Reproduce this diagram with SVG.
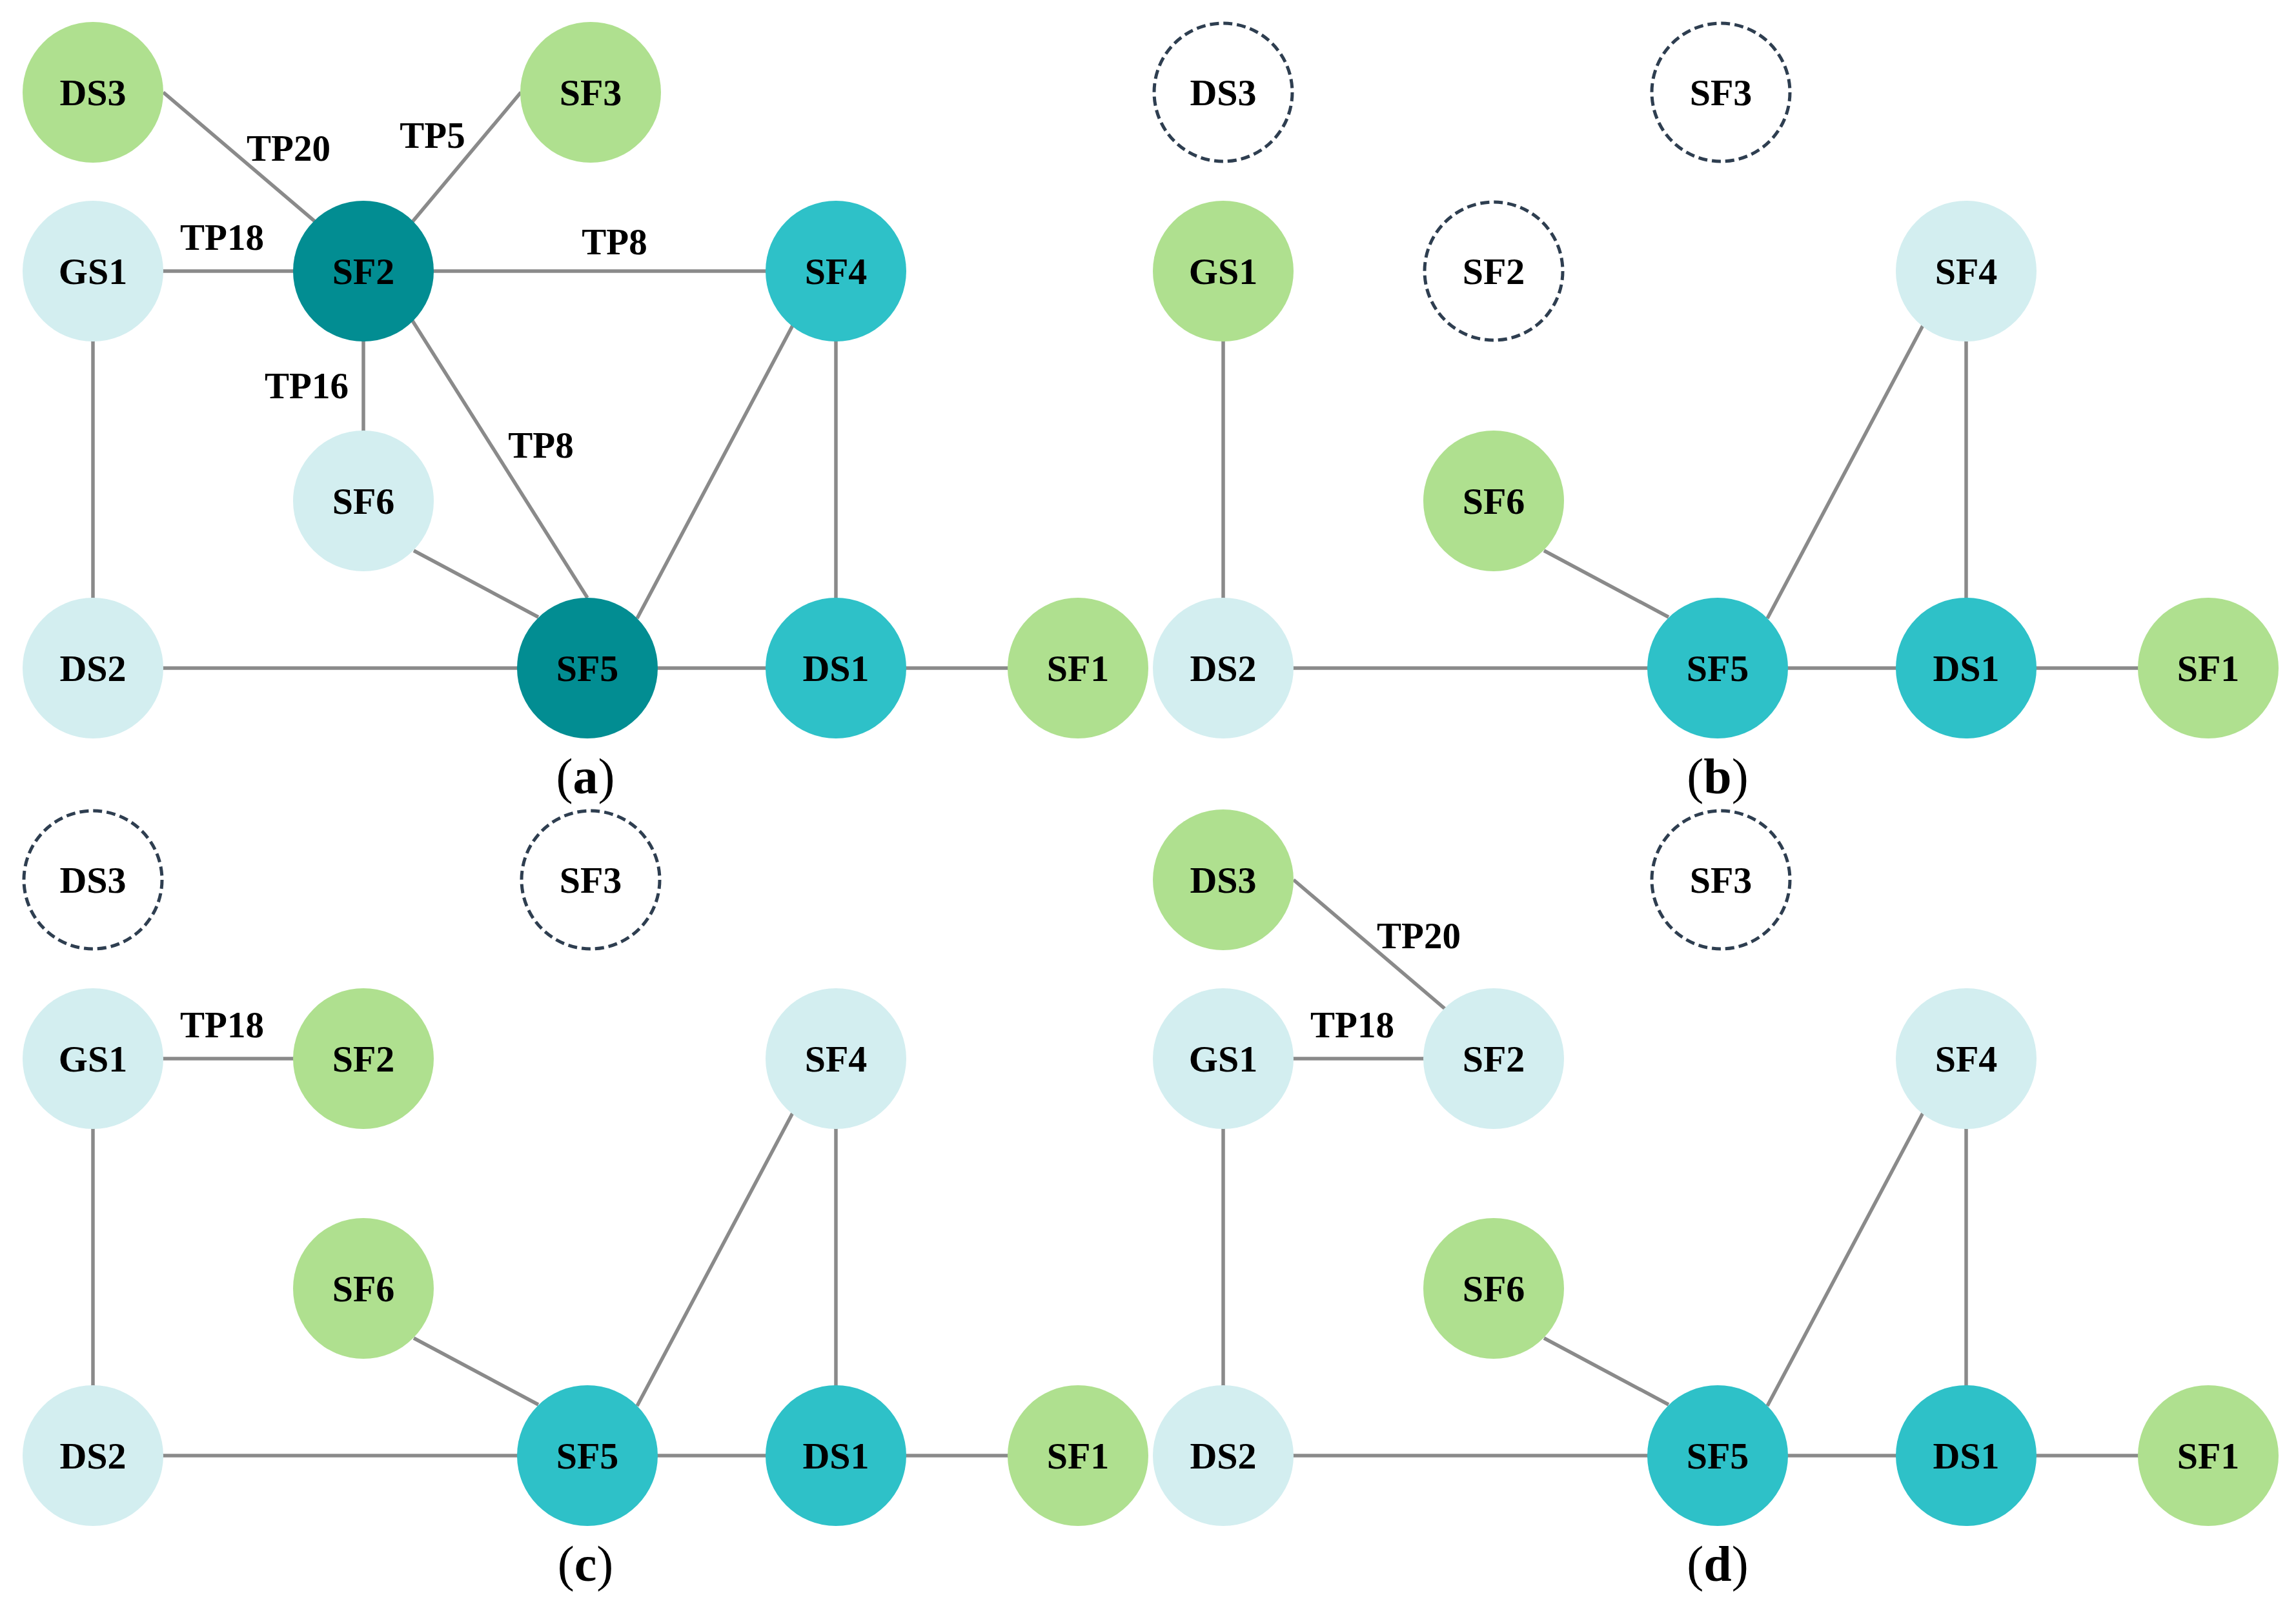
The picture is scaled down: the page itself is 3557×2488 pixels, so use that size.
<svg xmlns="http://www.w3.org/2000/svg" width="3557" height="2488" viewBox="0 0 3557 2488">
<style>
.bg{fill:#ffffff}
.c{stroke:#8a8a8a;stroke-width:5.5;fill:none}
.g{fill:#afe08f}
.lb{fill:#d3eef0}
.mt{fill:#2ec1c8}
.dt{fill:#028d92}
.ds{fill:#ffffff;stroke:#2e3e50;stroke-width:5;stroke-dasharray:14 7}
.n{font-family:"Liberation Serif","Times New Roman",serif;font-weight:bold;font-size:58px;text-anchor:middle;fill:#000}
.e{font-family:"Liberation Serif","Times New Roman",serif;font-weight:bold;font-size:57px;text-anchor:middle;fill:#000}
.p{font-family:"Liberation Serif","Times New Roman",serif;font-size:78px;text-anchor:middle;fill:#000}
.pb{font-weight:bold}
</style>
<rect class="bg" x="0" y="0" width="3557" height="2488"/>

<g id="connectors">
  <g id="conn-a">
    <line class="c" x1="253" y1="143" x2="530" y2="379"/>
    <line class="c" x1="807" y1="143" x2="600" y2="390"/>
    <line class="c" x1="144" y1="420" x2="563" y2="420"/>
    <line class="c" x1="563" y1="420" x2="1295" y2="420"/>
    <line class="c" x1="563" y1="420" x2="563" y2="776"/>
    <line class="c" x1="610" y1="451" x2="910" y2="926"/>
    <line class="c" x1="144" y1="420" x2="144" y2="1035"/>
    <line class="c" x1="987" y1="958" x2="1243" y2="476"/>
    <line class="c" x1="1295" y1="420" x2="1295" y2="1035"/>
    <line class="c" x1="641" y1="853" x2="834" y2="956"/>
    <line class="c" x1="144" y1="1035" x2="910" y2="1035"/>
    <line class="c" x1="910" y1="1035" x2="1295" y2="1035"/>
    <line class="c" x1="1295" y1="1035" x2="1670" y2="1035"/>
  </g>
  <g id="conn-b" transform="translate(1751,0)">
    <line class="c" x1="144" y1="420" x2="144" y2="1035"/>
    <line class="c" x1="987" y1="958" x2="1243" y2="476"/>
    <line class="c" x1="1295" y1="420" x2="1295" y2="1035"/>
    <line class="c" x1="641" y1="853" x2="834" y2="956"/>
    <line class="c" x1="144" y1="1035" x2="910" y2="1035"/>
    <line class="c" x1="910" y1="1035" x2="1295" y2="1035"/>
    <line class="c" x1="1295" y1="1035" x2="1670" y2="1035"/>
  </g>
  <g id="conn-c" transform="translate(0,1220)">
    <line class="c" x1="144" y1="420" x2="563" y2="420"/>
    <line class="c" x1="144" y1="420" x2="144" y2="1035"/>
    <line class="c" x1="987" y1="958" x2="1243" y2="476"/>
    <line class="c" x1="1295" y1="420" x2="1295" y2="1035"/>
    <line class="c" x1="641" y1="853" x2="834" y2="956"/>
    <line class="c" x1="144" y1="1035" x2="910" y2="1035"/>
    <line class="c" x1="910" y1="1035" x2="1295" y2="1035"/>
    <line class="c" x1="1295" y1="1035" x2="1670" y2="1035"/>
  </g>
  <g id="conn-d" transform="translate(1751,1220)">
    <line class="c" x1="253" y1="143" x2="530" y2="379"/>
    <line class="c" x1="144" y1="420" x2="563" y2="420"/>
    <line class="c" x1="144" y1="420" x2="144" y2="1035"/>
    <line class="c" x1="987" y1="958" x2="1243" y2="476"/>
    <line class="c" x1="1295" y1="420" x2="1295" y2="1035"/>
    <line class="c" x1="641" y1="853" x2="834" y2="956"/>
    <line class="c" x1="144" y1="1035" x2="910" y2="1035"/>
    <line class="c" x1="910" y1="1035" x2="1295" y2="1035"/>
    <line class="c" x1="1295" y1="1035" x2="1670" y2="1035"/>
  </g>
</g>

<g id="edge-labels">
  <text class="e" x="447" y="249">TP20</text>
  <text class="e" x="670" y="229">TP5</text>
  <text class="e" x="344" y="387">TP18</text>
  <text class="e" x="952" y="394">TP8</text>
  <text class="e" x="475" y="617">TP16</text>
  <text class="e" x="838" y="709">TP8</text>
  <text class="e" x="344" y="1607">TP18</text>
  <text class="e" x="2198" y="1469">TP20</text>
  <text class="e" x="2095" y="1607">TP18</text>
</g>

<g id="nodes">
  <g id="panel-a">
    <g id="a-DS3"><circle class="g" cx="144" cy="143" r="109"/><text class="n" x="144" y="163">DS3</text></g>
    <g id="a-SF3"><circle class="g" cx="915" cy="143" r="109"/><text class="n" x="915" y="163">SF3</text></g>
    <g id="a-GS1"><circle class="lb" cx="144" cy="420" r="109"/><text class="n" x="144" y="440">GS1</text></g>
    <g id="a-SF2"><circle class="dt" cx="563" cy="420" r="109"/><text class="n" x="563" y="440">SF2</text></g>
    <g id="a-SF4"><circle class="mt" cx="1295" cy="420" r="109"/><text class="n" x="1295" y="440">SF4</text></g>
    <g id="a-SF6"><circle class="lb" cx="563" cy="776" r="109"/><text class="n" x="563" y="796">SF6</text></g>
    <g id="a-DS2"><circle class="lb" cx="144" cy="1035" r="109"/><text class="n" x="144" y="1055">DS2</text></g>
    <g id="a-SF5"><circle class="dt" cx="910" cy="1035" r="109"/><text class="n" x="910" y="1055">SF5</text></g>
    <g id="a-DS1"><circle class="mt" cx="1295" cy="1035" r="109"/><text class="n" x="1295" y="1055">DS1</text></g>
    <g id="a-SF1"><circle class="g" cx="1670" cy="1035" r="109"/><text class="n" x="1670" y="1055">SF1</text></g>
  </g>
  <g id="panel-b" transform="translate(1751,0)">
    <g id="b-DS3"><circle class="ds" cx="144" cy="143" r="107"/><text class="n" x="144" y="163">DS3</text></g>
    <g id="b-SF3"><circle class="ds" cx="915" cy="143" r="107"/><text class="n" x="915" y="163">SF3</text></g>
    <g id="b-GS1"><circle class="g" cx="144" cy="420" r="109"/><text class="n" x="144" y="440">GS1</text></g>
    <g id="b-SF2"><circle class="ds" cx="563" cy="420" r="107"/><text class="n" x="563" y="440">SF2</text></g>
    <g id="b-SF4"><circle class="lb" cx="1295" cy="420" r="109"/><text class="n" x="1295" y="440">SF4</text></g>
    <g id="b-SF6"><circle class="g" cx="563" cy="776" r="109"/><text class="n" x="563" y="796">SF6</text></g>
    <g id="b-DS2"><circle class="lb" cx="144" cy="1035" r="109"/><text class="n" x="144" y="1055">DS2</text></g>
    <g id="b-SF5"><circle class="mt" cx="910" cy="1035" r="109"/><text class="n" x="910" y="1055">SF5</text></g>
    <g id="b-DS1"><circle class="mt" cx="1295" cy="1035" r="109"/><text class="n" x="1295" y="1055">DS1</text></g>
    <g id="b-SF1"><circle class="g" cx="1670" cy="1035" r="109"/><text class="n" x="1670" y="1055">SF1</text></g>
  </g>
  <g id="panel-c" transform="translate(0,1220)">
    <g id="c-DS3"><circle class="ds" cx="144" cy="143" r="107"/><text class="n" x="144" y="163">DS3</text></g>
    <g id="c-SF3"><circle class="ds" cx="915" cy="143" r="107"/><text class="n" x="915" y="163">SF3</text></g>
    <g id="c-GS1"><circle class="lb" cx="144" cy="420" r="109"/><text class="n" x="144" y="440">GS1</text></g>
    <g id="c-SF2"><circle class="g" cx="563" cy="420" r="109"/><text class="n" x="563" y="440">SF2</text></g>
    <g id="c-SF4"><circle class="lb" cx="1295" cy="420" r="109"/><text class="n" x="1295" y="440">SF4</text></g>
    <g id="c-SF6"><circle class="g" cx="563" cy="776" r="109"/><text class="n" x="563" y="796">SF6</text></g>
    <g id="c-DS2"><circle class="lb" cx="144" cy="1035" r="109"/><text class="n" x="144" y="1055">DS2</text></g>
    <g id="c-SF5"><circle class="mt" cx="910" cy="1035" r="109"/><text class="n" x="910" y="1055">SF5</text></g>
    <g id="c-DS1"><circle class="mt" cx="1295" cy="1035" r="109"/><text class="n" x="1295" y="1055">DS1</text></g>
    <g id="c-SF1"><circle class="g" cx="1670" cy="1035" r="109"/><text class="n" x="1670" y="1055">SF1</text></g>
  </g>
  <g id="panel-d" transform="translate(1751,1220)">
    <g id="d-DS3"><circle class="g" cx="144" cy="143" r="109"/><text class="n" x="144" y="163">DS3</text></g>
    <g id="d-SF3"><circle class="ds" cx="915" cy="143" r="107"/><text class="n" x="915" y="163">SF3</text></g>
    <g id="d-GS1"><circle class="lb" cx="144" cy="420" r="109"/><text class="n" x="144" y="440">GS1</text></g>
    <g id="d-SF2"><circle class="lb" cx="563" cy="420" r="109"/><text class="n" x="563" y="440">SF2</text></g>
    <g id="d-SF4"><circle class="lb" cx="1295" cy="420" r="109"/><text class="n" x="1295" y="440">SF4</text></g>
    <g id="d-SF6"><circle class="g" cx="563" cy="776" r="109"/><text class="n" x="563" y="796">SF6</text></g>
    <g id="d-DS2"><circle class="lb" cx="144" cy="1035" r="109"/><text class="n" x="144" y="1055">DS2</text></g>
    <g id="d-SF5"><circle class="mt" cx="910" cy="1035" r="109"/><text class="n" x="910" y="1055">SF5</text></g>
    <g id="d-DS1"><circle class="mt" cx="1295" cy="1035" r="109"/><text class="n" x="1295" y="1055">DS1</text></g>
    <g id="d-SF1"><circle class="g" cx="1670" cy="1035" r="109"/><text class="n" x="1670" y="1055">SF1</text></g>
  </g>
</g>

<g id="panel-labels">
  <text class="p" x="907" y="1229">(<tspan class="pb">a</tspan>)</text>
  <text class="p" x="2661" y="1229">(<tspan class="pb">b</tspan>)</text>
  <text class="p" x="907" y="2449">(<tspan class="pb">c</tspan>)</text>
  <text class="p" x="2661" y="2449">(<tspan class="pb">d</tspan>)</text>
</g>
</svg>
